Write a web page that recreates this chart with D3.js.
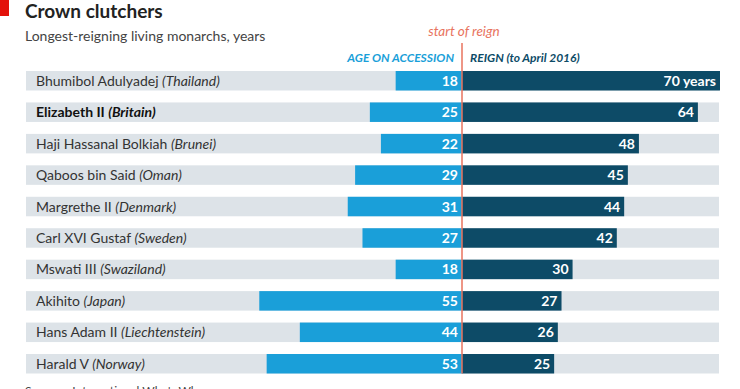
<!DOCTYPE html>
<html>
<head>
<meta charset="utf-8">
<script src="https://cdn.jsdelivr.net/npm/d3@7"></script>
<style>
  body { margin: 0; background: #fff; }
  svg { display: block; font-family: Lato, "Open Sans", sans-serif; }
</style>
</head>
<body>
<svg id="chart"></svg>
<script>
var names = ["Bhumibol Adulyadej", "Elizabeth II", "Haji Hassanal Bolkiah", "Qaboos bin Said",
  "Margrethe II", "Carl XVI Gustaf", "Mswati III", "Akihito", "Hans Adam II", "Harald V"];
var countries = ["Thailand", "Britain", "Brunei", "Oman", "Denmark", "Sweden",
  "Swaziland", "Japan", "Liechtenstein", "Norway"];
var ageAtAccession = [18, 25, 22, 29, 31, 27, 18, 55, 44, 53];
var reignYears = [70, 64, 48, 45, 44, 42, 30, 27, 26, 25];

var width = 740, height = 389;
var center = 462;

var svg = d3.select("#chart")
    .attr("width", width)
    .attr("height", height);

// red tab + titles
svg.append("rect").attr("x", 0).attr("y", 0).attr("width", 9).attr("height", 16).attr("fill", "#e3120b");
svg.append("text").attr("x", 25).attr("y", 18)
    .attr("font-size", 19).attr("font-weight", "bold").attr("fill", "#222")
    .text("Crown clutchers");
svg.append("text").attr("x", 25).attr("y", 41)
    .attr("font-size", 14).attr("fill", "#444")
    .text("Longest-reigning living monarchs, years");

var y = d3.scaleBand()
    .domain(d3.range(names.length))
    .range([71, 373.5])
    .paddingInner(0.38)
    .paddingOuter(0);

var xRight = d3.scaleLinear().domain([0, 70]).range([center, 720]);
var xLeft = d3.scaleLinear().domain([0, 70]).range([center, 204]);

var rows = svg.append("g").selectAll("g")
    .data(names)
    .join("g")
    .attr("transform", function (d, i) { return "translate(0," + y(i) + ")"; });

rows.append("rect")
    .attr("x", 26).attr("width", 719 - 26)
    .attr("height", y.bandwidth())
    .attr("fill", "#dde3e8");

rows.append("rect")
    .attr("x", function (d, i) { return xLeft(ageAtAccession[i]); })
    .attr("width", function (d, i) { return center - xLeft(ageAtAccession[i]); })
    .attr("height", y.bandwidth())
    .attr("fill", "#1a9fd9");

rows.append("rect")
    .attr("x", center)
    .attr("width", function (d, i) { return xRight(reignYears[i]) - center; })
    .attr("height", y.bandwidth())
    .attr("fill", "#0d4b67");

var label = rows.append("text")
    .attr("x", 36).attr("y", y.bandwidth() / 2 + 5)
    .attr("font-size", 14)
    .attr("fill", function (d, i) { return i === 1 ? "#111" : "#333"; })
    .attr("font-weight", function (d, i) { return i === 1 ? "bold" : "normal"; });
label.append("tspan").text(function (d) { return d + " "; });
label.append("tspan").attr("font-style", "italic")
    .text(function (d, i) { return "(" + countries[i] + ")"; });

rows.append("text")
    .attr("x", center - 4).attr("y", y.bandwidth() / 2 + 5)
    .attr("text-anchor", "end").attr("font-size", 14).attr("font-weight", "bold")
    .attr("fill", "#fff")
    .text(function (d, i) { return ageAtAccession[i]; });

rows.append("text")
    .attr("x", function (d, i) { return xRight(reignYears[i]) - 4; })
    .attr("y", y.bandwidth() / 2 + 5)
    .attr("text-anchor", "end").attr("font-size", 14).attr("font-weight", "bold")
    .attr("fill", "#fff")
    .text(function (d, i) { return i === 0 ? reignYears[i] + " years" : reignYears[i]; });

// headers
svg.append("text").attr("x", center - 8).attr("y", 62)
    .attr("text-anchor", "end").attr("font-size", 12).attr("font-weight", "bold")
    .attr("font-style", "italic").attr("fill", "#1a9fd9")
    .text("AGE ON ACCESSION");
svg.append("text").attr("x", center + 8).attr("y", 62)
    .attr("font-size", 12).attr("font-weight", "bold")
    .attr("font-style", "italic").attr("fill", "#0d4b67")
    .text("REIGN (to April 2016)");
svg.append("text").attr("x", center + 2).attr("y", 36)
    .attr("text-anchor", "middle").attr("font-size", 13.5)
    .attr("font-style", "italic").attr("fill", "#e8735e")
    .text("start of reign");

svg.append("line")
    .attr("x1", center).attr("x2", center)
    .attr("y1", 43).attr("y2", y(names.length - 1) + y.bandwidth())
    .attr("stroke", "#e8735e").attr("stroke-width", 1.5);

svg.append("text").attr("x", 25).attr("y", 395)
    .attr("font-size", 12).attr("fill", "#444")
    .text("Sources: International Who's Who");
</script>
</body>
</html>
